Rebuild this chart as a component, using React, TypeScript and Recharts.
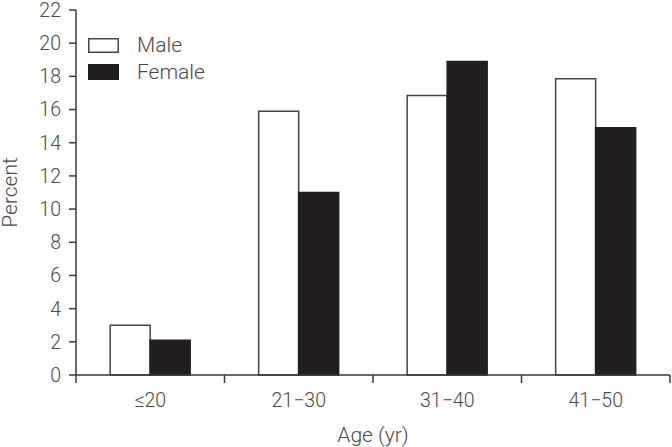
import React from 'react';
import { BarChart, Bar, XAxis, YAxis, Legend, Label } from 'recharts';

const categories = ['≤20', '21−30', '31−40', '41−50'];
const maleValues = [3.0, 15.9, 16.85, 17.85];
const femaleValues = [2.1, 11.0, 18.9, 14.9];
const yTicks = [0, 2, 4, 6, 8, 10, 12, 14, 16, 18, 20, 22];

const data = categories.map((c, i) => ({ age: c, male: maleValues[i], female: femaleValues[i] }));

const FONT = 'Roboto, "Liberation Sans", sans-serif';
const TEXT = '#4a4a4a';
const AXIS = '#3a3a3a';

const series = [
  { key: 'male', name: 'Male', fill: '#ffffff', stroke: '#444444' },
  { key: 'female', name: 'Female', fill: '#231f20', stroke: '#231f20' },
];

const W = 672;
const H = 447;
const M = { top: 10, right: 2, left: 0, bottom: 0 };
const YW = 76;

const XTick = (props: any) => {
  const { x, y, payload, index, visibleTicksCount } = props;
  const fallback = (W - M.left - M.right - YW) / categories.length / 2;
  const half = payload && typeof payload.offset === 'number' && payload.offset > 0 ? payload.offset : fallback;
  const last = index === (visibleTicksCount ?? categories.length) - 1;
  return (
    <g>
      <line x1={x - half} x2={x - half} y1={y} y2={y + 8} stroke={AXIS} strokeWidth={1.5} />
      {last && <line x1={x + half} x2={x + half} y1={y} y2={y + 8} stroke={AXIS} strokeWidth={1.5} />}
      <text x={x} y={y + 32} textAnchor="middle" fill={TEXT} fontSize={19.5} fontFamily={FONT} fontWeight={300}>
        {payload.value}
      </text>
    </g>
  );
};

const LegendContent = () => (
  <svg width={160} height={50} style={{ display: 'block', overflow: 'visible' }}>
    {series.map((s, i) => (
      <g key={s.key}>
        <rect x={0.75} y={0.75 + i * 26} width={29.5} height={13.5 + i} fill={s.fill} stroke={s.stroke} strokeWidth={1.5} />
        <text x={49} y={14 + i * 27} fill={TEXT} fontSize={21} fontFamily={FONT} fontWeight={300}>
          {s.name}
        </text>
      </g>
    ))}
  </svg>
);

export default function App() {
  return (
    <div style={{ position: 'absolute', left: 0, top: 0, width: W, height: H, background: '#fff' }}>
      <BarChart width={W} height={H} data={data} margin={M} barCategoryGap="23%" barGap={0}>
        <XAxis
          dataKey="age"
          height={72}
          axisLine={{ stroke: AXIS, strokeWidth: 1.5 }}
          tickLine={false}
          tickSize={0}
          tickMargin={0}
          tick={<XTick />}
          interval={0}
        >
          <Label
            content={(p: any) => {
              const vb = p.viewBox;
              return (
                <text x={vb.x + vb.width / 2} y={vb.y + 67} textAnchor="middle" fill={TEXT} fontSize={21} fontFamily={FONT} fontWeight={300}>
                  Age (yr)
                </text>
              );
            }}
          />
        </XAxis>
        <YAxis
          width={YW}
          domain={[0, 22]}
          ticks={yTicks}
          interval={0}
          axisLine={{ stroke: AXIS, strokeWidth: 1.5 }}
          tickLine={{ stroke: AXIS, strokeWidth: 1.5 }}
          tickSize={7}
          tickMargin={8}
          tick={{ fill: TEXT, fontSize: 19.5, fontFamily: FONT, fontWeight: 300 }}
        >
          <Label
            content={(p: any) => {
              const vb = p.viewBox;
              const cx = vb.x + 17;
              const cy = vb.y + vb.height / 2;
              return (
                <text x={cx} y={cy} transform={`rotate(-90 ${cx} ${cy})`} textAnchor="middle" fill={TEXT} fontSize={21} fontFamily={FONT} fontWeight={300}>
                  Percent
                </text>
              );
            }}
          />
        </YAxis>
        <Legend
          layout="vertical"
          align="center"
          verticalAlign="middle"
          content={<LegendContent />}
          wrapperStyle={{ position: 'absolute', left: 88, top: 38, width: 160, height: 50 }}
        />
        {series.map((s) => (
          <Bar
            key={s.key}
            dataKey={s.key}
            name={s.name}
            fill={s.fill}
            stroke={s.stroke}
            strokeWidth={1.5}
            isAnimationActive={false}
          />
        ))}
      </BarChart>
    </div>
  );
}
